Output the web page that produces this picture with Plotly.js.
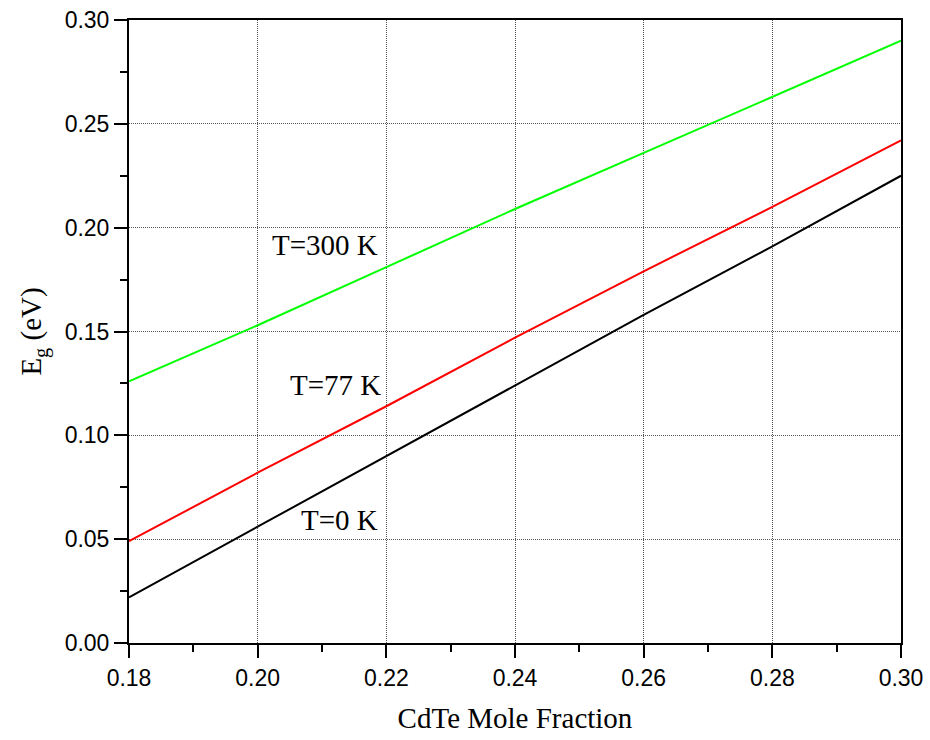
<!DOCTYPE html>
<html>
<head>
<meta charset="utf-8">
<script src="https://cdn.plot.ly/plotly-3.0.1.min.js"></script>
<style>html,body{margin:0;padding:0;background:#fff;}#chart{width:930px;height:740px;}</style>
</head>
<body>
<div id="chart"></div>
<script>
const xValues = [0.18, 0.20, 0.22, 0.24, 0.26, 0.28, 0.30];
const eg0K   = [0.022, 0.056, 0.090, 0.124, 0.158, 0.191, 0.225];
const eg77K  = [0.049, 0.082, 0.114, 0.147, 0.179, 0.210, 0.242];
const eg300K = [0.126, 0.153, 0.181, 0.209, 0.236, 0.263, 0.290];
const seriesLabels = ["T=0 K", "T=77 K", "T=300 K"];
const labelPos = [[0.219, 0.059], [0.2195, 0.124], [0.219, 0.1916]];

const traces = [
  {x: xValues, y: eg0K, mode: 'lines', line: {color: '#000000', width: 2}, name: seriesLabels[0]},
  {x: xValues, y: eg77K, mode: 'lines', line: {color: '#ff0000', width: 2}, name: seriesLabels[1]},
  {x: xValues, y: eg300K, mode: 'lines', line: {color: '#00ff00', width: 2}, name: seriesLabels[2]}
];

const axisCommon = {
  showline: true, linecolor: '#000', linewidth: 2, mirror: true,
  ticks: 'outside', ticklen: 13, tickwidth: 2, tickcolor: '#000',
  showgrid: true, gridcolor: '#555', griddash: '1px,1px', gridwidth: 1,
  zeroline: false,
  tickfont: {family: 'Liberation Sans, Arial, sans-serif', size: 23, color: '#000'},
  minor: {ticks: 'outside', ticklen: 7, tickwidth: 2, tickcolor: '#000', showgrid: false}
};

const serifFont = {family: 'Liberation Serif, Times New Roman, serif', size: 29, color: '#000'};

const layout = {
  width: 930, height: 740,
  margin: {l: 129, r: 29, t: 20, b: 97},
  paper_bgcolor: '#fff', plot_bgcolor: '#fff',
  showlegend: false,
  xaxis: Object.assign({}, axisCommon, {
    range: [0.18, 0.30], tickvals: [0.18,0.20,0.22,0.24,0.26,0.28,0.30],
    ticktext: ['0.18','0.20','0.22','0.24','0.26','0.28','0.30'],
    minor: Object.assign({}, axisCommon.minor, {tickvals: [0.19,0.21,0.23,0.25,0.27,0.29]}),
    title: {text: 'CdTe Mole Fraction', font: serifFont, standoff: 18}
  }),
  yaxis: Object.assign({}, axisCommon, {
    range: [0, 0.30], tickvals: [0,0.05,0.10,0.15,0.20,0.25,0.30],
    ticktext: ['0.00','0.05','0.10','0.15','0.20','0.25','0.30'],
    minor: Object.assign({}, axisCommon.minor, {tickvals: [0.025,0.075,0.125,0.175,0.225,0.275]}),
    title: {text: 'E<sub>g</sub> (eV)', font: serifFont, standoff: 14}
  }),
  annotations: seriesLabels.map((t, i) => ({
    x: labelPos[i][0], y: labelPos[i][1], xref: 'x', yref: 'y', text: t, showarrow: false,
    xanchor: 'right', yanchor: 'middle',
    font: serifFont
  }))
};

Plotly.newPlot('chart', traces, layout, {displayModeBar: false, staticPlot: true});
</script>
</body>
</html>
